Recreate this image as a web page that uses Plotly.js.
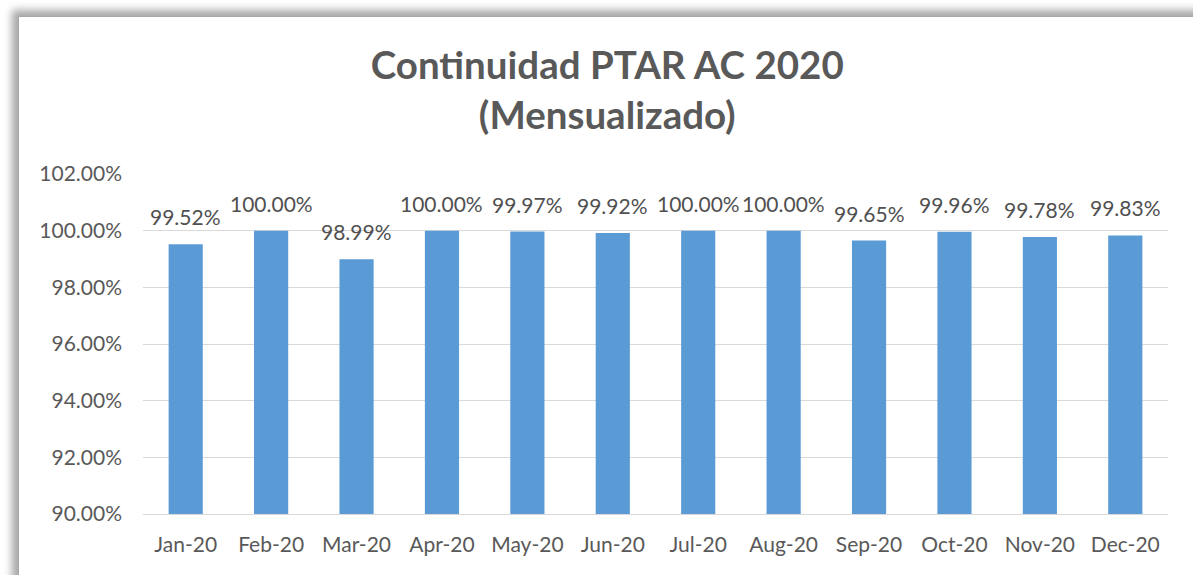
<!DOCTYPE html>
<html>
<head>
<meta charset="utf-8">
<script src="https://cdn.plot.ly/plotly-3.0.1.min.js"></script>
<style>
  html, body { margin: 0; padding: 0; background: #ffffff; width: 1193px; height: 575px; overflow: hidden; }
  #frame { position: absolute; left: 18px; top: 16px; width: 1200px; height: 600px; background: #ffffff;
           border-left: 1px solid #a8a8a8; border-top: 1px solid #a8a8a8;
           box-shadow: -6px -6px 8px rgba(0,0,0,0.35); }
  #chart { position: absolute; left: 0; top: 0; width: 1193px; height: 575px; }
</style>
</head>
<body>
<div id="frame"></div>
<div id="chart"></div>
<script>
const months = ["Jan-20","Feb-20","Mar-20","Apr-20","May-20","Jun-20","Jul-20","Aug-20","Sep-20","Oct-20","Nov-20","Dec-20"];
const continuidad = [0.9952, 1.0000, 0.9899, 1.0000, 0.9997, 0.9992, 1.0000, 1.0000, 0.9965, 0.9996, 0.9978, 0.9983];
const yTicks = [0.90, 0.92, 0.94, 0.96, 0.98, 1.00, 1.02];
const titleText = "Continuidad PTAR AC 2020<br>(Mensualizado)";

const FONT = "Lato, 'Open Sans', sans-serif";
const GREY = "#595959";

const trace = {
  type: "bar",
  x: months,
  y: continuidad,
  marker: { color: "#5B9BD5" },
  hoverinfo: "skip"
};

const labels = months.map((m, i) => ({
  x: m, y: continuidad[i], xref: "x", yref: "y",
  text: (continuidad[i] * 100).toFixed(2) + "%",
  showarrow: false, yanchor: "bottom", xanchor: "center",
  yshift: 13,
  font: { family: FONT, size: 21, color: "#505050" }
}));

const layout = {
  width: 1193, height: 575,
  paper_bgcolor: "rgba(0,0,0,0)",
  plot_bgcolor: "rgba(0,0,0,0)",
  margin: { l: 143, r: 25, t: 174, b: 61 },
  bargap: 0.6,
  showlegend: false,
  annotations: labels,
  title: {
    text: titleText,
    font: { family: FONT, size: 38.5, color: GREY, weight: "bold" },
    x: 0.509, xanchor: "center",
    y: 0.863, yanchor: "middle"
  },
  xaxis: {
    type: "category",
    showgrid: false,
    showline: true, linecolor: "#D9D9D9", linewidth: 1,
    ticks: "", ticklabelstandoff: 12,
    tickfont: { family: FONT, size: 21, color: GREY },
    fixedrange: true
  },
  yaxis: {
    range: [0.90, 1.02],
    tickvals: yTicks,
    tickformat: ".2%",
    showgrid: true, gridcolor: "#D9D9D9", gridwidth: 1,
    zeroline: false, showline: false,
    ticks: "", ticklabelstandoff: 20,
    tickfont: { family: FONT, size: 21, color: GREY },
    fixedrange: true
  }
};

Plotly.newPlot("chart", [trace], layout, { displayModeBar: false, staticPlot: true });
</script>
</body>
</html>
